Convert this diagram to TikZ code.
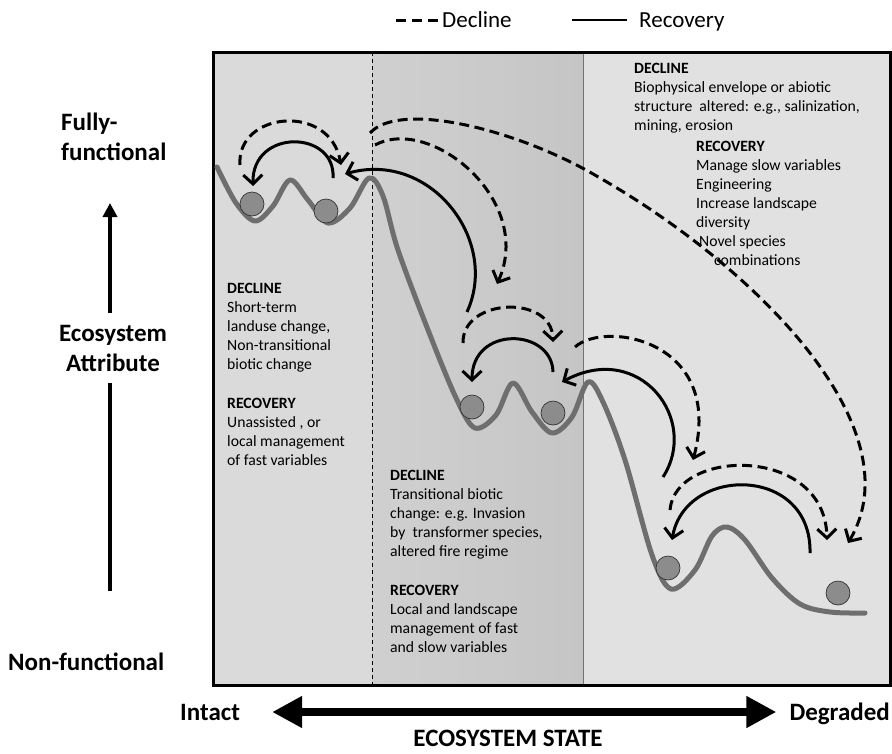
\documentclass[tikz,border=0pt]{standalone}
\usepackage{fontspec}
\setmainfont{Carlito}
\usetikzlibrary{arrows.meta, positioning}
\definecolor{panelleft}{HTML}{DADADA}
\definecolor{panelmidA}{HTML}{D0D0D0}
\definecolor{panelmidB}{HTML}{C5C5C5}
\definecolor{panelright}{HTML}{E1E1E1}
\definecolor{landgray}{HTML}{6E6E6E}
\definecolor{ballgray}{HTML}{8C8C8C}

\begin{document}
\begin{tikzpicture}[x=1pt, y=-1pt,
    decline/.style={line width=3pt, dash pattern=on 10pt off 5.5pt, -{Straight Barb[length=9pt,width=19pt]}},
    recovery/.style={line width=3pt, -{Straight Barb[length=9pt,width=19pt]}},
    landscape/.style={line width=5pt, color=landgray, line join=round, line cap=round},
    ball/.style={circle, draw=black!80, line width=0.7pt, fill=ballgray, minimum size=24pt, inner sep=0pt},
    body/.style={font=\fontsize{15.7}{19}\selectfont, align=left, anchor=north west, inner sep=0pt},
    axislabel/.style={font=\fontsize{25}{30}\selectfont\bfseries, inner sep=0pt},
    legendtext/.style={font=\fontsize{23}{28}\selectfont, anchor=base west, inner sep=0pt},
    axisline/.style={line width=4pt},
    statearrow/.style={line width=8pt, {Triangle[length=30pt,width=30pt]}-{Triangle[length=30pt,width=30pt]}}
]
    \useasboundingbox (0,0) rectangle (892,753);

    \fill[panelleft] (213,52) rectangle (372,685);
    \shade[left color=panelmidA, right color=panelmidB] (372,52) rectangle (583,685);
    \fill[panelright] (583,52) rectangle (890,685);
    \draw[line width=0.7pt, dash pattern=on 4pt off 3pt] (372,52) -- (372,685);
    \draw[line width=0.8pt, black!55] (583,52) -- (583,685);
    \draw[line width=3pt] (213,52) rectangle (890,685);

    \draw[landscape] plot[smooth, tension=0.55] coordinates {
        (217,167) (236,203) (255,221) (273,206) (290,180) (308,200) (328,223)
        (350,208) (369,178) (383,196) (398,250) (430,335) (457,400) (475,428)
        (496,415) (513,383) (532,412) (552,433) (572,417) (588,382) (603,402)
        (625,460) (652,555) (671,589) (695,570) (712,536) (727,527) (745,540)
        (772,578) (800,604) (830,612) (865,613)};

    \node[ball] (b1) at (252,204) {};
    \node[ball] (b2) at (326,211) {};
    \node[ball] (b3) at (472,407) {};
    \node[ball] (b4) at (553,413) {};
    \node[ball] (b5) at (668,568) {};
    \node[ball] (b6) at (838,593) {};

    \draw[decline] (240,165) .. controls (236,112) and (330,102) .. (341,165);
    \draw[recovery] (333,178) .. controls (336,130) and (252,128) .. (253,186);
    \draw[recovery] (467,312) .. controls (500,240) and (430,150) .. (345,174);
    \draw[decline] (375,145) .. controls (430,115) and (535,200) .. (497,284);
    \draw[decline] (370,133) .. controls (400,100) and (520,130) .. (600,178)
        .. controls (760,270) and (915,430) .. (848,543);
    \draw[decline] (463,343) .. controls (462,298) and (552,294) .. (553,342);
    \draw[recovery] (553,372) .. controls (552,328) and (472,325) .. (472,382);
    \draw[recovery] (663,477) .. controls (700,420) and (640,340) .. (562,382);
    \draw[decline] (575,347) .. controls (605,320) and (725,340) .. (693,460);
    \draw[decline] (670,510) .. controls (675,448) and (825,445) .. (827,540);
    \draw[recovery] (810,553) .. controls (812,465) and (685,465) .. (672,540);

    \node[body] (declineR) at (634,63) {\textbf{DECLINE}\\Biophysical envelope or abiotic\\structure~ altered: e.g., salinization,\\mining, erosion};
    \node[body] (recoveryR) at (696,141) {\textbf{RECOVERY}\\Manage slow variables\\Engineering\\Increase landscape\\diversity\\\hspace{3pt}Novel species\\\hspace{18pt}combinations};
    \node[body] (declineL) at (227,283) {\textbf{DECLINE}\\Short-term\\landuse change,\\Non-transitional\\biotic change};
    \node[body] (recoveryL) at (227,398) {\textbf{RECOVERY}\\Unassisted , or\\local management\\of fast variables};
    \node[body] (declineM) at (390,470) {\textbf{DECLINE}\\Transitional biotic\\change: e.g. Invasion\\by~ transformer species,\\altered fire regime};
    \node[body] (recoveryM) at (390,585) {\textbf{RECOVERY}\\Local and landscape\\management of fast\\and slow variables};

    \draw[line width=3pt, dash pattern=on 10pt off 6pt] (396,20) -- (440,20);
    \node[legendtext] (legdecline) at (442,27) {Decline};
    \draw[line width=2.5pt] (572,20) -- (627,20);
    \node[legendtext] (legrecovery) at (639,27) {Recovery};

    \node[axislabel, align=left, anchor=west] (fully) at (61,137) {Fully-\\functional};
    \node[axislabel, align=center, inner ysep=12pt] (attr) at (113,348) {Ecosystem\\Attribute};
    \node[axislabel, anchor=west] (nonfun) at (8,662) {Non-functional};
    \coordinate (axistop) at (110,203);
    \coordinate (axisbot) at (110,591);
    \draw[axisline] (axisbot) -- (axisbot |- attr.south);
    \draw[axisline, -{Triangle[length=14pt,width=14pt]}] (axistop |- attr.north) -- (axistop);

    \node[axislabel, anchor=base west] (intact) at (180,720) {Intact};
    \node[axislabel, anchor=base east] (degraded) at (890,720) {Degraded};
    \coordinate (statemid) at (0,712);
    \node[axislabel] (state) at (508,738) {ECOSYSTEM STATE};
    \draw[statearrow, shorten <=32pt, shorten >=13pt] (intact.east |- statemid) -- (degraded.west |- statemid);
\end{tikzpicture}
\end{document}
